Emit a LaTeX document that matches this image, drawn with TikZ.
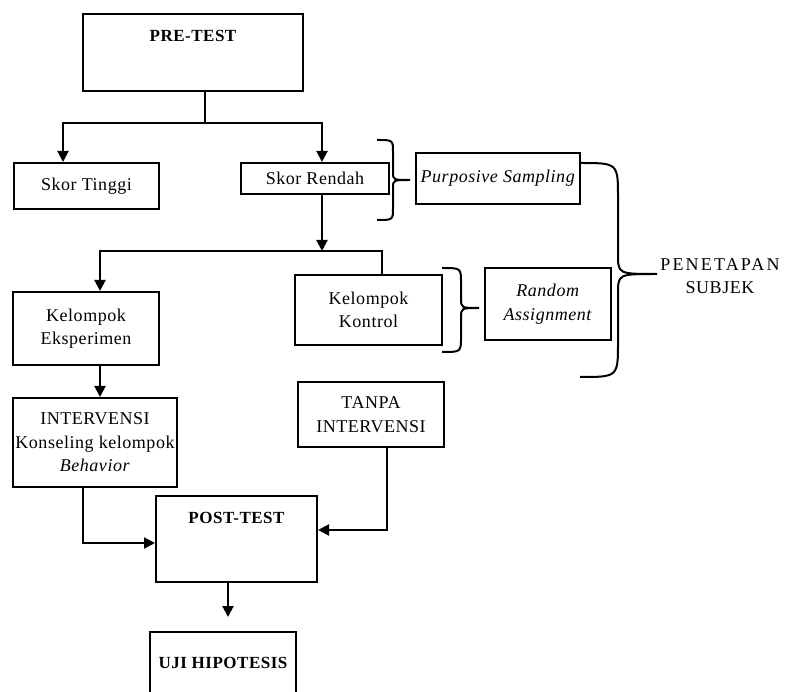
\documentclass[tikz,border=0pt]{standalone}
\usepackage{fontspec}
\setmainfont{Liberation Serif}[LetterSpace=3]
\usepackage{tikz}
\usetikzlibrary{arrows.meta,calc}

% curly brace: x0, y0, y1, x of stem, x of tip, y of tip, end radius, tip radius
\newcommand{\Brace}[8]{%
  \draw[brc] (#1,#2) .. controls (#4,#2) .. (#4,{#2+#7}) -- (#4,{#6-#8})
    .. controls (#4,#6) .. (#5,#6) .. controls (#4,#6) .. (#4,{#6+#8})
    -- (#4,{#3-#7}) .. controls (#4,#3) .. (#1,#3);}

\begin{document}
\begin{tikzpicture}
	[
	 x = 1pt, y = -1pt,
	 every node/.style = {align=center,
	                      font=\fontsize{18}{23.5}\selectfont},
	 box/.style = {shape=rectangle,
	               draw,
	               line width = 2pt,
	               inner sep = 2pt},
	 hd/.style  = {font=\fontsize{17}{20}\selectfont\bfseries,
	               inner ysep = 4pt},
	 ln/.style  = {line width = 2pt},
	 arr/.style = {line width = 2pt, -{Triangle[length=11pt,width=11pt]}},
	 brc/.style = {line width = 2pt}
	]

	\newcommand{\IntTxt}{INTERVENSI\\Konseling kelompok\\\textit{Behavior}}
	\newcommand{\RndTxt}{\textit{Random}\\\textit{Assignment}}
	\newcommand{\PtTxt}{{\addfontfeature{LetterSpace=12}PENETAPAN}\\SUBJEK}

	\useasboundingbox (0,0) rectangle (790,692);
	\clip (0,0) rectangle (790,692);

	\node[box, hd, minimum width=220pt, text height=24pt, text depth=45pt] (pre) at (193,52.5) {PRE-TEST};
	\node[box, minimum width=145pt, minimum height=46pt] (tinggi) at (86.5,186) {Skor Tinggi};
	\node[box, minimum width=148pt, minimum height=31pt] (rendah) at (315,178.5) {Skor Rendah};
	\node[box, minimum width=164pt, minimum height=51pt] (purposive) at (498,178.5) {\textit{Purposive Sampling}};
	\node[box, minimum width=146pt, minimum height=73pt] (eksperimen) at (86,328.5) {Kelompok\\Eksperimen};
	\node[box, minimum width=147pt, minimum height=70pt] (kontrol) at (368.5,310) {Kelompok\\Kontrol};
	\node[box, minimum width=126pt, minimum height=72pt] (random) at (548,304) {\RndTxt};
	\node[box, minimum width=164pt, minimum height=89pt] (intervensi) at (95,442.5) {\IntTxt};
	\node[box, minimum width=146pt, minimum height=65pt] (tanpa) at (371,414.5) {TANPA\\INTERVENSI};
	\node[box, hd, minimum width=161pt, text height=23pt, text depth=55pt] (post) at (236.5,539) {POST-TEST};
	\node[box, hd, minimum width=146pt, text height=32pt, text depth=40pt] (uji) at (223,672) {UJI HIPOTESIS};
	\node (penetapan) at (720,276) {\PtTxt};

	\coordinate (s1) at (205,123);
	\coordinate (s2) at (322,251);

	\draw[ln]  (pre.south -| s1) -- (s1);
	\draw[arr] (s1) -| ([xshift=-23.5pt]tinggi.north);
	\draw[arr] (s1) -| ([xshift=7pt]rendah.north);
	\draw[arr] ([xshift=7pt]rendah.south) -- (s2);
	\draw[arr] (s2) -| ([xshift=14pt]eksperimen.north);
	\draw[ln]  (s2) -| ([xshift=13.5pt]kontrol.north);
	\draw[arr] ([xshift=14pt]eksperimen.south) -- ([xshift=14pt]eksperimen.south |- intervensi.north);
	\draw[arr] ([xshift=-12pt]intervensi.south) |- ([yshift=-4pt]post.west);
	\draw[arr] ([xshift=16pt]tanpa.south) |- ([yshift=9pt]post.east);
	\draw[arr] ([xshift=-8.5pt]post.south) -- ([xshift=5pt,yshift=14pt]uji.north);

	\Brace{377}{140}{220}{393}{410}{180}{12}{8}
	\Brace{442}{268}{352}{461}{479}{308}{15}{10}
	\Brace{580}{163}{377}{618}{657}{274}{35}{20}
\end{tikzpicture}
\end{document}
